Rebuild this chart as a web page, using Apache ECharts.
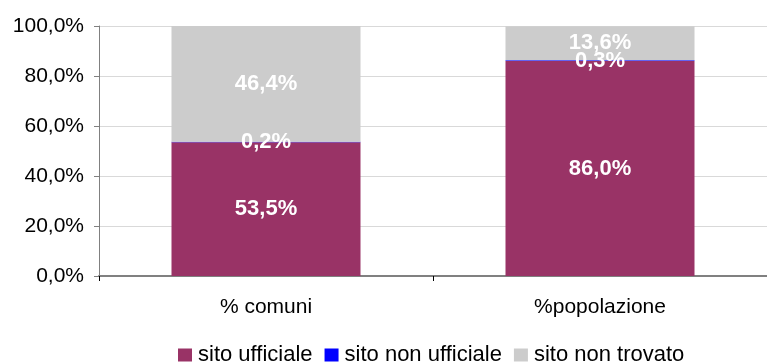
<!DOCTYPE html>
<html>
<head>
<meta charset="utf-8">
<script src="https://cdn.jsdelivr.net/npm/echarts@6/dist/echarts.min.js"></script>
<style>
  html, body { margin: 0; padding: 0; background: #fff; }
  #chart { width: 767px; height: 362px; }
</style>
</head>
<body>
<div id="chart"></div>
<script>
// Categories and shares (percent) for each site status
var categories = ['% comuni', '%popolazione'];
var sitoUfficiale = [53.5, 86.0];
var sitoNonUfficiale = [0.2, 0.3];
var sitoNonTrovato = [46.4, 13.6];
var seriesNames = ['sito ufficiale', 'sito non ufficiale', 'sito non trovato'];
var seriesColors = ['#993366', '#0000FF', '#CCCCCC'];
var yTicks = [0, 20, 40, 60, 80, 100];

var FONT = '"Liberation Sans", Arial, sans-serif';

function pct(v) {
  return v.toFixed(1).replace('.', ',') + '%';
}

var values = [sitoUfficiale, sitoNonUfficiale, sitoNonTrovato];

var chart = echarts.init(document.getElementById('chart'), null, { renderer: 'canvas' });

chart.setOption({
  animation: false,
  backgroundColor: '#ffffff',
  grid: { left: 99, right: -4, top: 26, bottom: 86, containLabel: false },
  legend: {
    data: seriesNames,
    left: 178,
    top: 343,
    padding: 0,
    itemWidth: 14,
    itemHeight: 13,
    itemGap: 12,
    icon: 'rect',
    textStyle: { fontFamily: FONT, fontSize: 22, color: '#000', padding: [0, 0, 0, 1], lineHeight: 24 }
  },
  xAxis: {
    type: 'category',
    data: categories,
    axisLine: { lineStyle: { color: '#808080', width: 2 } },
    axisTick: { show: true, length: 5, lineStyle: { color: '#000' } },
    axisLabel: { fontFamily: FONT, fontSize: 21, color: '#000', margin: 21 },
    splitLine: { show: false }
  },
  yAxis: {
    type: 'value',
    min: yTicks[0],
    max: yTicks[yTicks.length - 1],
    interval: 20,
    axisLine: { show: true, lineStyle: { color: '#808080', width: 1 } },
    axisTick: { show: true, length: 5, lineStyle: { color: '#808080' } },
    axisLabel: {
      fontFamily: FONT, fontSize: 21, color: '#000', margin: 15,
      formatter: function (v) { return pct(v); }
    },
    splitLine: { show: true, lineStyle: { color: '#D9D9D9', width: 1 } }
  },
  series: seriesNames.map(function (name, i) {
    return {
      name: name,
      type: 'bar',
      stack: 'total',
      barWidth: 189,
      data: values[i],
      itemStyle: { color: seriesColors[i] },
      label: {
        show: true,
        position: 'inside',
        color: '#ffffff',
        fontFamily: FONT,
        fontWeight: 'bold',
        fontSize: 22,
        formatter: function (p) { return pct(p.value); }
      }
    };
  })
});
</script>
</body>
</html>
